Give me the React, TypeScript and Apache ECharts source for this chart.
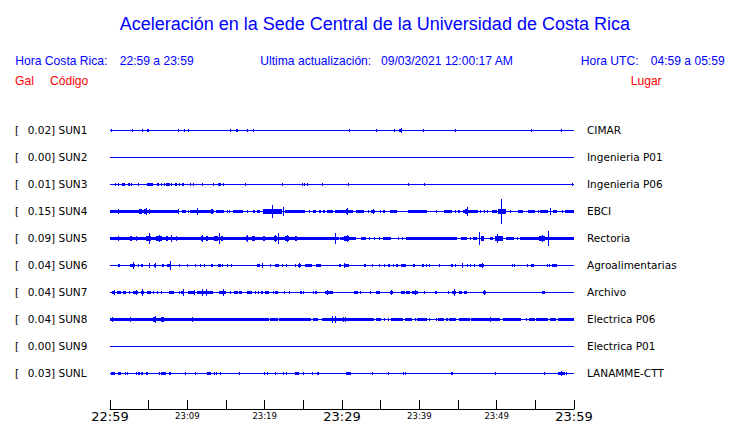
import React, { useEffect, useRef } from "react";
import * as echarts from "echarts";

// ---- Data ----
const STATION_CODES = ["SUN1", "SUN2", "SUN3", "SUN4", "SUN5", "SUN6", "SUN7", "SUN8", "SUN9", "SUNL"];
const STATION_PEAKS = [0.02, 0.0, 0.01, 0.15, 0.09, 0.04, 0.04, 0.04, 0.0, 0.03];
const STATION_PLACES = ["CIMAR", "Ingenieria P01", "Ingenieria P06", "EBCI", "Rectoria", "Agroalimentarias", "Archivo", "Electrica P06", "Electrica P01", "LANAMME-CTT"];
const TICK_LABELS = ["22:59", "23:09", "23:19", "23:29", "23:39", "23:49", "23:59"];

// bursts: [startMinute, endMinute, halfAmplitudeGal]
const SUN1 = [
  [0.1, 0.1, 0.02], [2.85, 2.85, 0.015], [4.14, 4.14, 0.015], [4.8, 5.1, 0.016], [8.8, 8.8, 0.01], [9.57, 9.57, 0.015], [10.1, 10.1, 0.015], [15.5, 15.5, 0.01], [16.3, 16.5, 0.016], [17.7, 17.9, 0.012], [18.5, 18.5, 0.015],
  [30.9, 30.9, 0.01], [34.4, 34.4, 0.015], [36.7, 36.9, 0.016], [37.4, 37.8, 0.02], [37.6, 37.6, 0.026], [40.5, 40.5, 0.015], [44.6, 44.8, 0.016], [54.4, 54.4, 0.015], [58.3, 58.3, 0.015],
];
const SUN2: number[][] = [];
const SUN3 = [
  [0.7, 0.7, 0.01], [1.04, 1.04, 0.016], [1.5, 1.9, 0.016], [2.3, 2.3, 0.016], [2.46, 2.46, 0.016], [2.72, 2.72, 0.016], [3.6, 3.8, 0.016], [4.8, 5.5, 0.016], [5.1, 5.1, 0.02], [6.1, 6.4, 0.016], [6.64, 6.64, 0.016], [7.0, 7.0, 0.016], [7.2, 7.7, 0.016], [7.5, 7.5, 0.02], [7.94, 7.94, 0.016], [8.4, 8.6, 0.016], [8.88, 8.88, 0.016], [9.3, 9.6, 0.016], [9.45, 9.45, 0.02], [10.4, 10.4, 0.016], [10.7, 10.9, 0.016], [11.9, 11.9, 0.016], [13.3, 13.5, 0.016], [14.0, 14.4, 0.016], [14.2, 14.2, 0.02], [14.6, 14.6, 0.016], [17.46, 17.46, 0.01], [22.2, 22.2, 0.016], [24.8, 24.8, 0.01], [25.1, 25.1, 0.01], [25.5, 25.5, 0.016], [27.4, 27.4, 0.01],
  [30.8, 30.9, 0.012], [38.5, 38.5, 0.016], [40.6, 40.6, 0.016], [59.7, 59.7, 0.016],
];
const SUN4 = [
  [0, 8.8, 0.02], [1.04, 1.04, 0.032], [3.8, 4.1, 0.024], [4.4, 4.7, 0.028], [4.6, 4.6, 0.036], [5.05, 5.05, 0.028], [8.8, 8.8, 0.032], [9.3, 9.8, 0.02], [10.1, 10.1, 0.016], [10.4, 11.2, 0.02], [11.2, 11.2, 0.036], [11.4, 13.5, 0.02], [13.0, 13.3, 0.024], [13.15, 13.15, 0.028], [13.7, 14.8, 0.02], [15.1, 15.2, 0.02], [15.35, 15.5, 0.02], [15.9, 17.25, 0.02], [17.76, 17.76, 0.016], [18.45, 18.7, 0.02], [19.05, 19.4, 0.02], [19.8, 20.9, 0.024], [20.9, 20.9, 0.08], [21.0, 22.2, 0.024], [22.4, 22.4, 0.048], [22.6, 25.2, 0.02], [25.7, 25.7, 0.016], [26.3, 26.7, 0.02], [27.0, 27.3, 0.02], [27.5, 27.8, 0.02], [28.0, 28.9, 0.02],
  [29.1, 31.4, 0.02], [30.5, 30.8, 0.028], [30.65, 30.65, 0.036], [31.85, 32.8, 0.02], [33.3, 33.3, 0.016], [33.7, 34.3, 0.02], [34.0, 34.0, 0.032], [34.9, 34.9, 0.016], [35.3, 35.5, 0.02], [36.2, 37.1, 0.02], [38.5, 41.0, 0.02], [42.1, 42.1, 0.016], [43.2, 44.2, 0.02], [44.6, 44.6, 0.016], [45.0, 45.3, 0.02], [45.7, 47.6, 0.02], [45.9, 46.3, 0.028], [46.1, 46.1, 0.048], [47.8, 47.8, 0.016], [48.3, 48.3, 0.016], [48.7, 48.7, 0.016], [49.4, 50.0, 0.02], [50.2, 51.25, 0.024], [50.56, 50.56, 0.15], [51.7, 51.7, 0.016], [52.8, 53.4, 0.02], [54.05, 54.9, 0.02], [55.3, 55.3, 0.016], [55.65, 56.6, 0.02], [56.94, 56.94, 0.04], [57.3, 57.8, 0.02], [58.5, 58.5, 0.016], [58.9, 60, 0.02],
];
const SUN5 = [
  [0, 29.6, 0.02], [1.04, 1.04, 0.032], [2.55, 2.85, 0.028], [3.37, 3.37, 0.024], [4.6, 5.35, 0.028], [5.09, 5.09, 0.068], [6.0, 6.7, 0.028], [6.3, 6.3, 0.036], [7.3, 7.5, 0.024], [7.9, 7.9, 0.044], [8.5, 8.7, 0.024], [11.77, 12.07, 0.028], [11.9, 11.9, 0.036], [12.4, 12.7, 0.024], [13.5, 13.97, 0.028], [14.1, 14.1, 0.068], [14.4, 14.6, 0.028], [17.6, 17.9, 0.028], [17.75, 17.75, 0.036], [18.3, 18.7, 0.024], [19.8, 20.0, 0.024], [21.2, 21.6, 0.032], [21.4, 21.4, 0.044], [21.7, 21.7, 0.064], [22.6, 23.1, 0.028], [22.85, 22.85, 0.036], [23.9, 24.2, 0.028], [29.05, 29.05, 0.068],
  [29.7, 31.8, 0.02], [30.3, 30.9, 0.028], [30.6, 30.6, 0.04], [32.4, 33.15, 0.02], [33.5, 33.5, 0.016], [34.1, 34.1, 0.016], [34.8, 34.8, 0.016], [35.3, 36.4, 0.02], [37.2, 37.2, 0.016], [37.8, 37.8, 0.016], [38.3, 44.9, 0.02], [45.35, 46.1, 0.02], [46.6, 46.6, 0.016], [46.95, 47.4, 0.02], [47.7, 47.7, 0.072], [48.0, 48.3, 0.028], [48.15, 48.15, 0.032], [49.1, 49.5, 0.02], [49.75, 50.8, 0.028], [50.1, 50.1, 0.056], [51.25, 52.3, 0.02], [52.6, 52.6, 0.016], [53.0, 60, 0.02], [55.5, 56.2, 0.028], [55.9, 55.9, 0.036], [56.64, 56.64, 0.09],
];
const SUN6 = [
  [1.04, 1.25, 0.016], [2.55, 3.2, 0.016], [2.98, 2.98, 0.044], [3.6, 3.6, 0.016], [3.97, 4.3, 0.016], [5.05, 5.05, 0.024], [5.7, 5.87, 0.02], [5.8, 5.8, 0.032], [6.73, 6.99, 0.016], [7.33, 7.94, 0.02], [7.8, 7.8, 0.048], [8.88, 9.05, 0.016], [9.9, 9.9, 0.016], [10.95, 10.95, 0.016], [11.6, 11.6, 0.016], [12.16, 12.16, 0.02], [13.1, 13.37, 0.016], [13.97, 14.3, 0.016], [14.5, 14.5, 0.016], [15.1, 15.1, 0.016], [15.6, 15.6, 0.016], [18.97, 19.4, 0.016], [19.6, 19.6, 0.032], [20.65, 20.65, 0.016], [21.4, 21.8, 0.016], [22.25, 22.25, 0.016], [22.8, 22.8, 0.016], [23.9, 24.1, 0.016], [24.3, 24.75, 0.02], [24.5, 24.5, 0.024], [25.2, 26.1, 0.016], [26.7, 27.3, 0.016], [29.65, 29.9, 0.016],
  [30.2, 30.2, 0.028], [30.4, 30.9, 0.016], [32.85, 33.06, 0.016], [33.9, 34.05, 0.016], [34.8, 34.8, 0.016], [35.4, 35.6, 0.016], [35.95, 36.25, 0.016], [36.6, 36.6, 0.016], [36.95, 37.2, 0.016], [37.6, 38.3, 0.016], [39.2, 39.45, 0.016], [40.35, 40.55, 0.016], [40.8, 41.0, 0.016], [41.3, 41.3, 0.016], [42.6, 42.6, 0.016], [44.05, 44.4, 0.016], [44.6, 44.8, 0.016], [45.5, 45.5, 0.024], [46.1, 46.1, 0.016], [46.5, 46.5, 0.016], [47.1, 47.1, 0.016], [47.7, 48.4, 0.016], [48.1, 48.1, 0.032], [52.0, 52.0, 0.016], [52.3, 52.3, 0.016], [53.9, 54.1, 0.016], [54.4, 54.8, 0.016], [56.5, 56.5, 0.016], [56.8, 56.8, 0.016], [57.2, 57.8, 0.016],
];
const SUN7 = [
  [0.26, 0.69, 0.02], [0.5, 0.5, 0.032], [0.9, 1.47, 0.016], [1.64, 2.07, 0.016], [2.42, 2.42, 0.016], [3.02, 3.63, 0.02], [3.3, 3.3, 0.028], [3.97, 4.4, 0.02], [4.14, 4.14, 0.04], [4.83, 5.35, 0.016], [5.6, 5.6, 0.016], [6.1, 6.1, 0.016], [6.56, 6.56, 0.016], [7.6, 8.28, 0.016], [8.88, 8.88, 0.016], [9.14, 9.57, 0.02], [9.4, 9.4, 0.036], [10.13, 10.95, 0.016], [10.9, 10.9, 0.032], [11.2, 11.8, 0.016], [11.8, 13.32, 0.02], [11.9, 11.9, 0.036], [12.35, 12.35, 0.036], [14.1, 15.05, 0.02], [14.6, 14.6, 0.04], [15.56, 15.56, 0.016], [16.04, 16.56, 0.016], [16.64, 17.1, 0.016], [17.7, 17.7, 0.016], [17.9, 18.37, 0.016], [18.8, 18.8, 0.016], [19.2, 19.2, 0.016], [19.5, 19.8, 0.016], [20.0, 20.6, 0.016], [21.08, 21.08, 0.016], [21.4, 21.7, 0.016], [22.5, 22.5, 0.016], [23.15, 23.15, 0.01], [24.6, 24.8, 0.016], [25.0, 25.0, 0.016], [26.25, 26.25, 0.016], [26.5, 26.8, 0.016], [27.8, 28.8, 0.02], [28.0, 28.0, 0.032],
  [31.5, 32.07, 0.016], [32.37, 32.37, 0.01], [33.67, 33.67, 0.016], [34.35, 34.87, 0.016], [36.17, 36.6, 0.02], [36.4, 36.4, 0.028], [37.67, 38.1, 0.016], [38.3, 38.84, 0.016], [39.1, 39.83, 0.02], [39.4, 39.4, 0.032], [40.6, 40.6, 0.01], [41.98, 42.3, 0.016], [43.7, 43.7, 0.01], [44.27, 44.8, 0.02], [44.45, 44.45, 0.036], [45.13, 45.56, 0.016], [45.73, 46.16, 0.016], [48.2, 48.67, 0.02], [48.4, 48.4, 0.028], [55.8, 56.2, 0.016],
];
const SUN8 = [
  [0, 20.6, 0.02], [0.26, 0.26, 0.028], [2.6, 2.6, 0.028], [5.5, 6.0, 0.028], [5.8, 5.8, 0.044], [6.6, 6.99, 0.024], [6.8, 6.8, 0.032], [10.6, 10.6, 0.032], [20.75, 21.7, 0.02], [21.8, 23.1, 0.02], [23.2, 26.05, 0.02], [26.25, 26.9, 0.02], [27.4, 34.2, 0.02], [28.75, 28.75, 0.036], [29.15, 29.15, 0.036], [30.1, 30.1, 0.032], [30.4, 30.4, 0.028],
  [34.35, 35.1, 0.02], [35.4, 35.4, 0.016], [35.95, 35.95, 0.016], [36.4, 37.9, 0.02], [38.1, 39.1, 0.02], [39.4, 39.4, 0.016], [39.75, 41.0, 0.02], [41.3, 41.3, 0.016], [42.2, 42.2, 0.016], [42.46, 43.15, 0.02], [43.4, 43.7, 0.02], [43.85, 44.7, 0.02], [45.13, 46.5, 0.02], [46.7, 50.4, 0.02], [49.1, 49.1, 0.032], [50.8, 51.8, 0.02], [51.9, 53.2, 0.02], [53.85, 53.85, 0.016], [54.2, 54.9, 0.02], [55.1, 56.65, 0.02], [56.85, 57.7, 0.02], [57.9, 60, 0.02],
];
const SUN9: number[][] = [];
const SUNL = [
  [0.18, 0.6, 0.016], [1.04, 1.47, 0.016], [1.9, 1.9, 0.016], [2.16, 2.16, 0.016], [3.3, 3.3, 0.016], [3.6, 3.9, 0.016], [4.05, 4.27, 0.016], [4.66, 4.92, 0.016], [6.3, 6.5, 0.016], [6.64, 7.29, 0.016], [7.68, 7.9, 0.016], [9.66, 9.66, 0.01], [11.04, 11.04, 0.016], [12.5, 13.0, 0.016], [12.75, 12.75, 0.02], [13.4, 13.4, 0.016], [13.67, 13.67, 0.01], [14.2, 14.2, 0.01], [16.7, 16.7, 0.016], [19.9, 19.9, 0.016], [20.35, 20.35, 0.016], [21.34, 21.34, 0.016], [22.4, 22.4, 0.016], [22.8, 22.8, 0.016], [23.9, 24.5, 0.016], [24.96, 24.96, 0.016], [26.1, 26.1, 0.016], [26.77, 27.0, 0.016],
  [30.48, 31.2, 0.016], [30.8, 30.8, 0.02], [33.9, 33.9, 0.016], [36.0, 36.0, 0.016], [37.9, 37.9, 0.016], [38.2, 38.2, 0.016], [44.05, 44.05, 0.016], [44.2, 44.2, 0.016], [49.74, 49.96, 0.016], [56.1, 56.1, 0.016], [57.9, 58.8, 0.02], [58.3, 58.3, 0.032], [59.0, 59.0, 0.016],
];
const STATION_BURSTS = [SUN1, SUN2, SUN3, SUN4, SUN5, SUN6, SUN7, SUN8, SUN9, SUNL];

// ---- Layout constants ----
const ROW = 0.325; // Gal per trace row
const WINDOW_MIN = 60;
const BLUE = "#0000ff";
const RED = "#ff0000";
const HEAD_FONT = '"Liberation Sans", Arial, sans-serif';
const LABEL_FONT = '"DejaVu Sans", sans-serif';

function rowIndexFromValue(v: number) {
  return 9 - Math.round(v / ROW);
}

export default function App() {
  const ref = useRef<HTMLDivElement>(null);
  useEffect(() => {
    if (!ref.current) return;
    const chart = echarts.init(ref.current, null, { renderer: "svg" });

    const data: number[][] = [];
    STATION_BURSTS.forEach((bursts, row) => {
      data.push([0, WINDOW_MIN, 0, row]);
      bursts.forEach((b) => data.push([b[0], b[1], b[2], row]));
    });

    const headText = (text: string, x: number, y: number, color: string, size: number, align = "left") => ({
      type: "text",
      x,
      y,
      silent: true,
      style: { text, fill: color, fontSize: size, fontFamily: HEAD_FONT, align, verticalAlign: "middle" },
    });

    chart.setOption({
      animation: false,
      backgroundColor: "#ffffff",
      grid: { left: 110, width: 464, top: 103, height: 297 },
      xAxis: {
        type: "value",
        min: 0,
        max: WINDOW_MIN,
        interval: 5,
        position: "bottom",
        offset: 9,
        axisLine: { show: true, onZero: false, lineStyle: { color: "#000", width: 1 } },
        axisTick: { show: true, inside: true, length: 9, lineStyle: { color: "#000", width: 1 } },
        splitLine: { show: false },
        axisLabel: {
          margin: 0,
          color: "#000",
          fontFamily: LABEL_FONT,
          formatter: (v: number) => {
            if (Math.round(v) % 10 !== 0) return "";
            const i = Math.round(v / 10);
            const lab = TICK_LABELS[i];
            return i % 3 === 0 ? `{big|${lab}}` : `{small|${lab}}`;
          },
          rich: {
            big: { fontSize: 13, fontFamily: LABEL_FONT, color: "#000", lineHeight: 14 },
            small: { fontSize: 8.5, fontFamily: LABEL_FONT, color: "#000", lineHeight: 14 },
          },
        },
      },
      yAxis: [
        {
          type: "value",
          position: "left",
          min: -ROW,
          max: 10 * ROW,
          interval: ROW,
          axisLine: { show: false },
          axisTick: { show: false },
          splitLine: { show: false },
          axisLabel: {
            align: "left",
            margin: 95,
            formatter: (v: number) => {
              const i = rowIndexFromValue(v);
              if (i < 0 || i > 9) return "";
              return `{b|[}{v|${STATION_PEAKS[i].toFixed(2)}] ${STATION_CODES[i]}}`;
            },
            rich: {
              b: { width: 12.7, fontSize: 10.5, fontFamily: LABEL_FONT, color: "#000" },
              v: { fontSize: 10.5, fontFamily: LABEL_FONT, color: "#000" },
            },
          },
        },
        {
          type: "value",
          position: "right",
          min: -ROW,
          max: 10 * ROW,
          interval: ROW,
          axisLine: { show: false },
          axisTick: { show: false },
          splitLine: { show: false },
          axisLabel: {
            align: "left",
            margin: 13,
            color: "#000",
            fontSize: 10.5,
            fontFamily: LABEL_FONT,
            formatter: (v: number) => {
              const i = rowIndexFromValue(v);
              if (i < 0 || i > 9) return "";
              return STATION_PLACES[i];
            },
          },
        },
      ],
      graphic: [
        headText("Aceleración en la Sede Central de la Universidad de Costa Rica", 374.8, 24.4, BLUE, 18, "center"),
        headText("Hora Costa Rica:", 15.3, 61, BLUE, 12.1),
        headText("22:59 a 23:59", 119.7, 61, BLUE, 12.1),
        headText("Ultima actualización:", 260.3, 61, BLUE, 12.1),
        headText("09/03/2021 12:00:17 AM", 381, 61, BLUE, 12.1),
        headText("Hora UTC:", 580.7, 61, BLUE, 12.1),
        headText("04:59 a 05:59", 650.7, 61, BLUE, 12.1),
        headText("Gal", 15, 80.7, RED, 12.1),
        headText("Código", 50, 80.7, RED, 12.1),
        headText("Lugar", 630.7, 80.7, RED, 12.1),
      ],
      series: [
        {
          type: "custom",
          xAxisIndex: 0,
          yAxisIndex: 0,
          silent: true,
          data,
          renderItem: (_params: any, api: any) => {
            const s = api.value(0);
            const e = api.value(1);
            const a = api.value(2);
            const row = api.value(3);
            const base = (9 - row) * ROW;
            const p1 = api.coord([s, base]);
            const p2 = api.coord([e, base]);
            const ampPx = Math.floor(api.size([0, a])[1] + 0.3);
            const yb = Math.round(p1[1]);
            const left = Math.round(p1[0]);
            const w = Math.max(1, Math.round(p2[0]) - left);
            return {
              type: "rect",
              shape: { x: left, y: yb - ampPx, width: w, height: 2 * ampPx + 1 },
              style: { fill: BLUE },
            };
          },
        },
      ],
    });
    return () => chart.dispose();
  }, []);
  return <div ref={ref} style={{ position: "fixed", left: 0, top: 0, width: 740, height: 423 }} />;
}
